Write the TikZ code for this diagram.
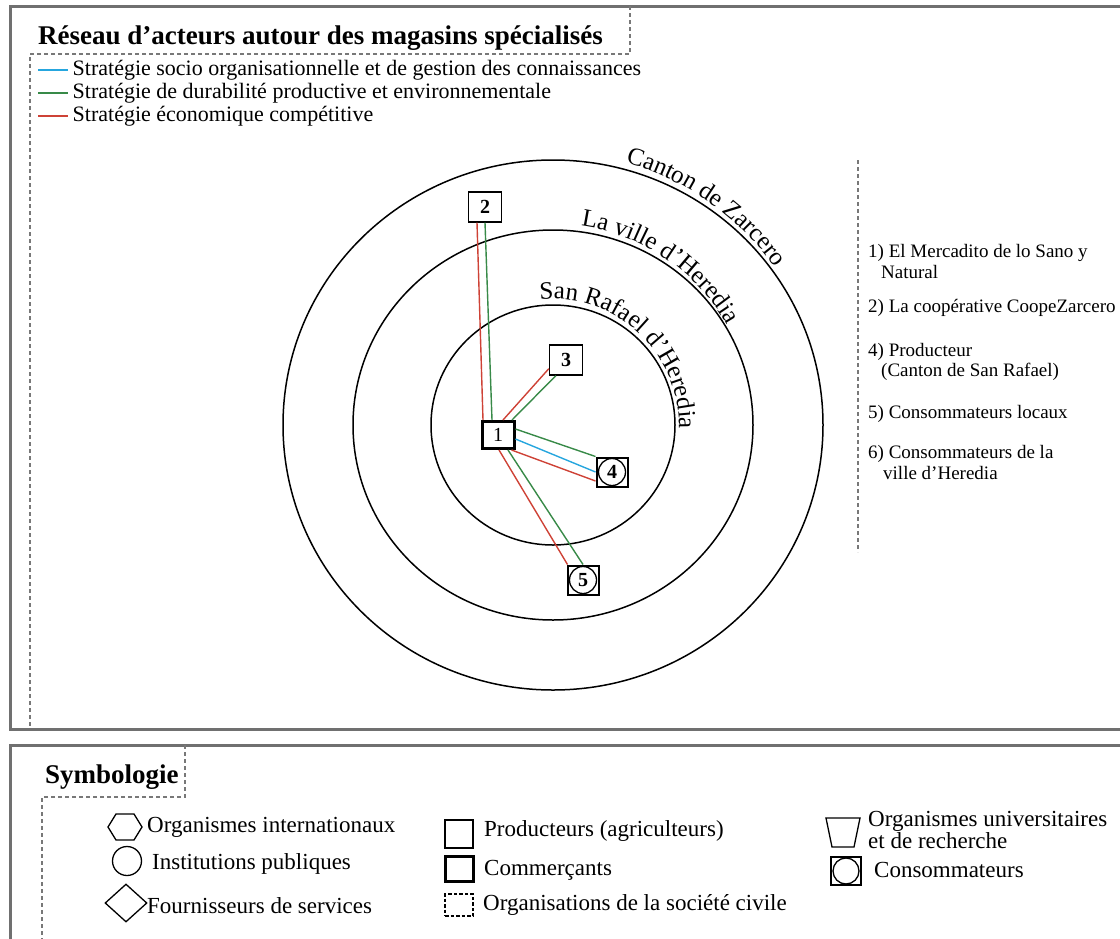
\documentclass[tikz,border=0pt]{standalone}
\usepackage{fontspec}
\setmainfont{Liberation Serif}
\usetikzlibrary{decorations.text,shapes.geometric,calc}
\definecolor{frameg}{RGB}{112,112,112}
\definecolor{dashg}{RGB}{120,120,120}
\definecolor{sblue}{RGB}{38,166,222}
\definecolor{sgreen}{RGB}{56,138,72}
\definecolor{sred}{RGB}{206,66,54}
\newcommand\ttlfnt{\fontsize{27}{27}\selectfont\bfseries}
\newcommand\lgfnt{\fontsize{22}{22}\selectfont}
\newcommand\lsfnt{\fontsize{19}{21}\selectfont}
\newcommand\syfnt{\fontsize{23}{19}\selectfont}
\newcommand\arcfnt{\fontsize{25}{25}\selectfont}
\begin{document}
\begin{tikzpicture}[x=1pt,y=1pt,
  frame/.style={draw=frameg,line width=3pt},
  dsh/.style={draw=dashg,line width=1.6pt,dash pattern=on 4pt off 3pt},
  ring/.style={draw=black,line width=1.5pt},
  actor/.style={draw=black,fill=white,line width=1.3pt,minimum width=33pt,minimum height=30pt,inner sep=0pt,font=\fontsize{20}{20}\selectfont\bfseries},
  merchant/.style={actor,line width=3pt,minimum width=32pt,minimum height=27pt},
  consumer/.style={actor,line width=2pt,minimum width=31pt,minimum height=29pt,path picture={\draw[line width=1.3pt] (path picture bounding box.center) circle (13.5pt);}},
  link/.style={line width=1.4pt},
  lgtext/.style={anchor=west,font=\lgfnt,inner sep=4pt,text=black},
  lstext/.style={anchor=base west,font=\lsfnt,inner sep=0pt},
  sytext/.style={anchor=west,font=\syfnt,inner sep=0pt},
  sym/.style={draw=black,line width=1.3pt},
  arclabel/.style={decorate,decoration={text along path,text align=left}}
]
\useasboundingbox (0,0) rectangle (1120,-938);
\begin{scope}
\clip (0,0) rectangle (1120,-938);
\draw[frame] (1140,-6) -- (10,-6) -- (10,-729) -- (1140,-729);
\draw[frame] (1140,-745) -- (10,-745) -- (10,-960);
\end{scope}

% title and legend
\node[anchor=base west,font=\ttlfnt,inner sep=0pt] (title) at (38,-44) {Réseau d’acteurs autour des magasins spécialisés};
\draw[dsh] (630,-6) -- (630,-54) -- (30,-54) -- (30,-729);
\draw[link,sblue] (38,-70) -- (68,-70) node[lgtext] (lg1) {Stratégie socio organisationnelle et de gestion des connaissances};
\draw[link,sgreen] (38,-93) -- (68,-93) node[lgtext] (lg2) {Stratégie de durabilité productive et environnementale};
\draw[link,sred] (38,-116) -- (68,-116) node[lgtext] (lg3) {Stratégie économique compétitive};

% rings
\coordinate (C) at (553,-425);
\draw[ring] (C) ellipse [x radius=270, y radius=265];
\draw[ring] (C) ellipse [x radius=200, y radius=195];
\draw[ring] (C) ellipse [x radius=122, y radius=120];
\path[arclabel,decoration={text={|\arcfnt|Canton de Zarcero}}] ($(C)+(74.5:272)$) arc[start angle=74.5,end angle=5,radius=272];
\path[arclabel,decoration={text={|\arcfnt|La ville d’Heredia}}] ($(C)+(82:201)$) arc[start angle=82,end angle=-10,radius=201];
\path[arclabel,decoration={text={|\arcfnt|San Rafael d’Heredia}}] ($(C)+(96:126)$) arc[start angle=96,end angle=-40,radius=126];

% actors
\node[actor] (n2) at (485,-207) {2};
\node[actor] (n3) at (566,-360) {3};
\node[merchant] (n1) at (498,-435) {\mdseries 1};
\node[consumer] (n4) at (612,-472) {4};
\node[consumer] (n5) at (583,-580) {5};

% links
\draw[link,sred] ([xshift=-8pt]n2.south) -- ([xshift=-15pt]n1.north);
\draw[link,sgreen] (n2.south) -- ([xshift=-6pt]n1.north);
\draw[link,sred] ([xshift=5pt]n1.north) -- ([yshift=7pt]n3.south west);
\draw[link,sgreen] ([xshift=14pt]n1.north) -- ([xshift=7pt]n3.south west);
\draw[link,sgreen] ([yshift=6pt]n1.east) -- (n4.north west);
\draw[link,sblue] ([yshift=-4pt]n1.east) -- (n4.west);
\draw[link,sred] ([xshift=-4pt]n1.south east) -- ([yshift=-9pt]n4.west);
\draw[link,sred] ([xshift=1pt]n1.south) -- ([xshift=1pt]n5.north west);
\draw[link,sgreen] ([xshift=10pt]n1.south) -- (n5.north);

% right list
\draw[dsh] (858,-160) -- (858,-552);
\node[lstext] (l1a) at (868,-257) {1) El Mercadito de lo Sano y};
\node[lstext] (l1b) at (881,-278) {Natural};
\node[lstext] (l2) at (868,-312) {2) La coopérative CoopeZarcero};
\node[lstext] (l4a) at (868,-356) {4) Producteur};
\node[lstext] (l4b) at (881,-376) {(Canton de San Rafael)};
\node[lstext] (l5) at (868,-418) {5) Consommateurs locaux};
\node[lstext] (l6a) at (868,-458) {6) Consommateurs de la};
\node[lstext] (l6b) at (883,-479) {ville d’Heredia};

% symbology
\node[anchor=base west,font=\ttlfnt,inner sep=0pt] (symt) at (45,-783) {Symbologie};
\draw[dsh] (185,-745) -- (185,-797) -- (42,-797) -- (42,-940);
\coordinate (hx) at (125,-827);
\draw[sym] ($(hx)+(-17,0)$) -- ($(hx)+(-9,13)$) -- ($(hx)+(9,13)$) -- ($(hx)+(17,0)$) -- ($(hx)+(9,-13)$) -- ($(hx)+(-9,-13)$) -- cycle;
\node[sytext] (t1) at (147,-827) {Organismes internationaux};
\node[sym,circle,minimum size=29pt,inner sep=0pt] (sc) at (127,-861) {};
\node[sytext] (t2) at (152,-864) {Institutions publiques};
\node[sym,diamond,minimum width=42pt,minimum height=38pt,inner sep=0pt] (sd) at (126,-903) {};
\node[sytext] (t3) at (147,-906) {Fournisseurs de services};

\node[sym,minimum width=28pt,minimum height=28pt,inner sep=0pt] (q1) at (459,-834) {};
\node[sytext] (t4) at (484,-831) {Producteurs (agriculteurs)};
\node[sym,line width=3pt,minimum width=28pt,minimum height=25pt,inner sep=0pt] (q2) at (459,-869) {};
\node[sytext] (t5) at (484,-870) {Commerçants};
\node[sym,dash pattern=on 3.5pt off 2pt,minimum width=28pt,minimum height=22pt,inner sep=0pt] (q3) at (459,-905) {};
\node[sytext] (t6) at (483,-905) {Organisations de la société civile};

\coordinate (tz) at (843,-832);
\draw[sym] ($(tz)+(-17,14)$) -- ($(tz)+(17,14)$) -- ($(tz)+(11,-15)$) -- ($(tz)+(-11,-15)$) -- cycle;
\node[sytext,align=left] (t7) at (868,-830) {Organismes universitaires\\et de recherche};
\node[sym,minimum width=30pt,minimum height=28pt,inner sep=0pt,line width=1.5pt,path picture={\draw[line width=1.3pt] (path picture bounding box.center) circle (13pt);}] (q4) at (846,-871) {};
\node[sytext] (t8) at (874,-870) {Consommateurs};
\end{tikzpicture}
\end{document}
